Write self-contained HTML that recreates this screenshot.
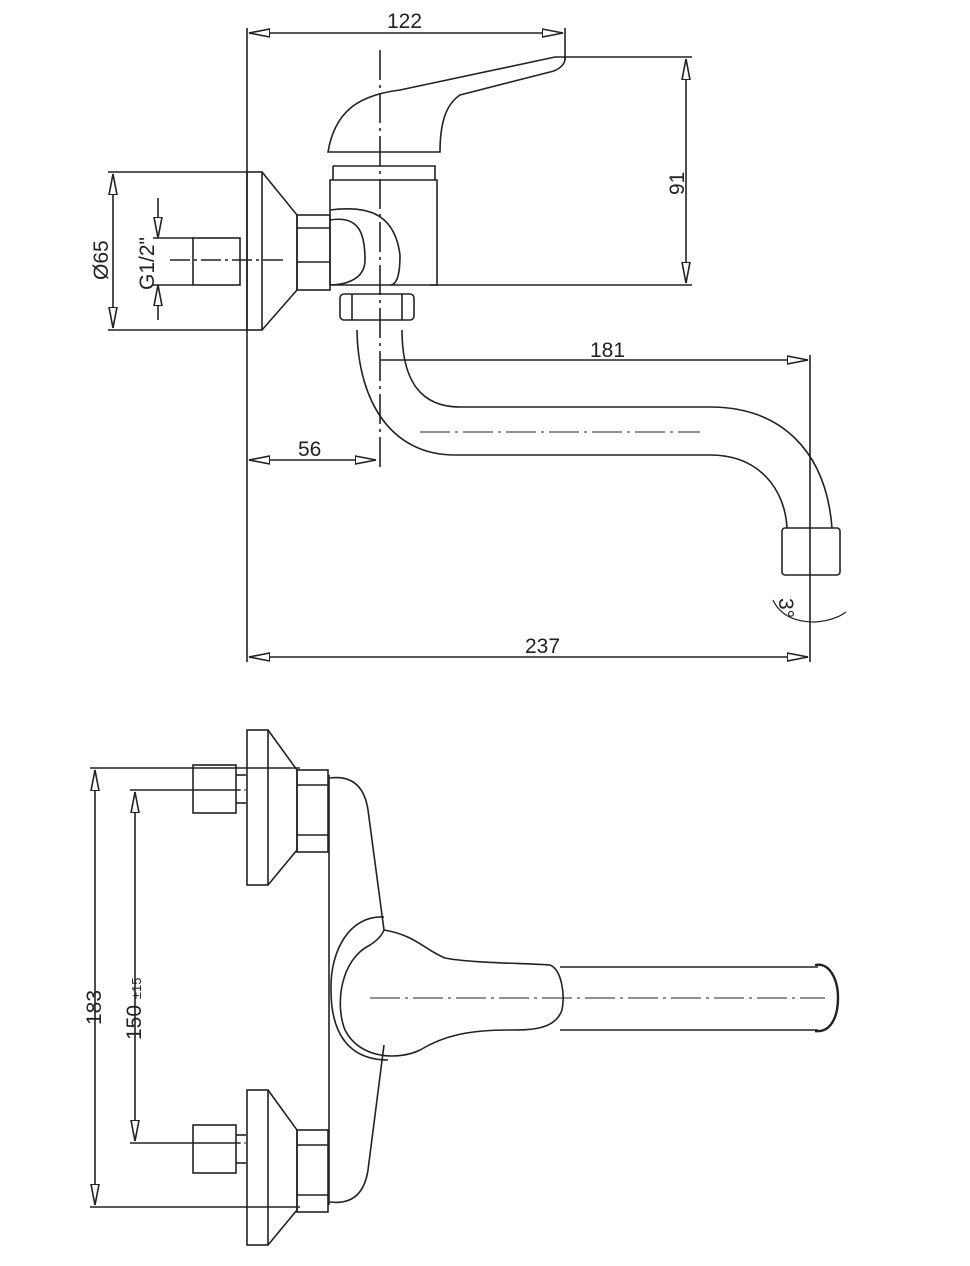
<!DOCTYPE html><html><head><style>body{margin:0;background:#fff}svg{display:block}text{font-family:"Liberation Sans",sans-serif;font-size:21px;fill:#222;stroke:none}</style></head><body>
<svg width="970" height="1266" viewBox="0 0 970 1266" fill="none" stroke="#222" stroke-width="1.6">
<defs><marker id="a" markerWidth="14" markerHeight="6" refX="13" refY="3" orient="auto-start-reverse"><path d="M0,0.5L13,3L0,5.5z" fill="#fff" stroke="#222" stroke-width="1"/></marker></defs>
<!-- TOP VIEW dims -->
<line x1="247" y1="28" x2="247" y2="662"/>
<line x1="565" y1="28" x2="565" y2="60"/>
<line x1="249" y1="33" x2="563" y2="33" marker-start="url(#a)" marker-end="url(#a)"/>
<text x="387" y="28">122</text>
<line x1="565" y1="57" x2="692" y2="57"/>
<line x1="430" y1="285" x2="692" y2="285"/>
<line x1="686" y1="59" x2="686" y2="283" marker-start="url(#a)" marker-end="url(#a)"/>
<text transform="translate(684,195) rotate(-90)">91</text>
<line x1="108" y1="172" x2="247" y2="172"/><line x1="108" y1="330" x2="247" y2="330"/>
<line x1="113" y1="174" x2="113" y2="328" marker-start="url(#a)" marker-end="url(#a)"/>
<text transform="translate(108,280) rotate(-90)">Ø65</text>
<line x1="153" y1="238" x2="193" y2="238"/><line x1="153" y1="285" x2="193" y2="285"/>
<line x1="158" y1="198" x2="158" y2="238" marker-end="url(#a)"/><line x1="158" y1="320" x2="158" y2="285" marker-end="url(#a)"/>
<text transform="translate(154,290) rotate(-90)">G1/2"</text>
<line x1="170" y1="260" x2="285" y2="260" stroke-dasharray="20,4,3,4"/>
<!-- escutcheon -->
<rect x="247" y="172" width="15" height="158"/>
<path d="M262,172L297,215L297,290L262,330"/>
<rect x="297" y="215" width="33" height="75"/><line x1="297" y1="228" x2="330" y2="228"/><line x1="297" y1="262" x2="330" y2="262"/>
<rect x="193" y="238" width="47" height="47"/>
<!-- body -->
<path d="M330,180 L437,180 L437,285 L330,285 Z"/>
<path d="M333,166L435,166L435,180M333,166L333,180"/>
<path d="M328,152 C335,110 360,95 400,90 L555,57 L565,57 C566,63 560,70 550,72 L460,95 C445,105 440,125 440,152 Z"/>
<path d="M330,210 C370,205 395,215 400,255 C400,280 395,285 390,285"/>
<path d="M330,220 C360,215 365,235 365,260 C365,282 340,285 330,285"/>
<rect x="340" y="294" width="74" height="26" rx="4"/>
<line x1="352" y1="294" x2="352" y2="320"/><line x1="402" y1="294" x2="402" y2="320"/>
<line x1="380" y1="50" x2="380" y2="470" stroke-dasharray="30,5,3,5"/>
<!-- spout -->
<path d="M357,330 C358,400 390,455 455,455 L710,455 C760,455 785,490 787,528"/>
<path d="M402,330 C402,380 420,407 460,407 L710,407 C780,407 826,450 832,528"/>
<line x1="420" y1="432" x2="700" y2="432" stroke-dasharray="30,5,3,5" stroke-width="1"/>
<rect x="782" y="528" width="58" height="47" rx="3"/>
<line x1="380" y1="360" x2="808" y2="360" marker-end="url(#a)"/>
<text x="590" y="357">181</text>
<line x1="810" y1="355" x2="810" y2="662"/>
<line x1="249" y1="460" x2="376" y2="460" marker-start="url(#a)" marker-end="url(#a)"/>
<text x="298" y="456">56</text>
<line x1="249" y1="657" x2="808" y2="657" marker-start="url(#a)" marker-end="url(#a)"/>
<text x="525" y="653">237</text>
<path d="M773,600 C780,615 795,622 815,622 C828,621 838,618 846,612" stroke-width="1.2"/>
<text transform="translate(779,598) rotate(90)" font-size="20">3°</text>
<!-- BOTTOM VIEW -->
<line x1="90" y1="768" x2="300" y2="768"/><line x1="90" y1="1207" x2="300" y2="1207"/>
<line x1="95" y1="770" x2="95" y2="1205" marker-start="url(#a)" marker-end="url(#a)"/>
<text transform="translate(101,1025) rotate(-90)">183</text>
<line x1="130" y1="790" x2="240" y2="790"/><line x1="130" y1="1143" x2="240" y2="1143"/>
<line x1="135" y1="792" x2="135" y2="1141" marker-start="url(#a)" marker-end="url(#a)"/>
<text transform="translate(141,1040) rotate(-90)">150 <tspan font-size="13">±15</tspan></text>
<g id="e">
<rect x="247" y="730" width="21" height="155"/>
<path d="M268,730L297,770L297,850L268,885"/>
<rect x="297" y="770" width="31" height="82"/><line x1="297" y1="785" x2="328" y2="785"/><line x1="297" y1="835" x2="328" y2="835"/>
<rect x="193" y="765" width="43" height="48"/><line x1="236" y1="775" x2="246" y2="775"/><line x1="236" y1="803" x2="246" y2="803"/>
</g>
<use href="#e" transform="translate(0,360)"/>
<line x1="190" y1="790" x2="246" y2="790" stroke-dasharray="10,3,2,3" stroke-width="1"/>
<line x1="190" y1="1143" x2="246" y2="1143" stroke-dasharray="10,3,2,3" stroke-width="1"/>
<line x1="329" y1="775" x2="329" y2="1205"/>
<path d="M330,778 C355,775 365,790 368,810 L384,930"/>
<path d="M330,1202 C355,1205 365,1190 368,1170 L384,1045"/>
<path d="M384,917 C350,915 330,950 331,990 C331,1035 350,1060 388,1060"/>
<path d="M384,930 C415,935 425,950 445,958 C470,963 520,963 550,965 C562,970 565,995 562,1010 C555,1030 530,1030 510,1030 C470,1030 445,1035 420,1050 C400,1060 360,1060 345,1030 C335,1005 340,960 370,945 C378,940 382,935 384,930"/>
<line x1="560" y1="967" x2="818" y2="967"/><line x1="560" y1="1030" x2="818" y2="1030"/>
<path d="M815,965 C830,962 838,980 838,998 C838,1018 830,1033 815,1031" stroke-width="2.4"/>
<line x1="370" y1="998" x2="825" y2="998" stroke-dasharray="30,5,3,5" stroke-width="1"/>
</svg></body></html>
